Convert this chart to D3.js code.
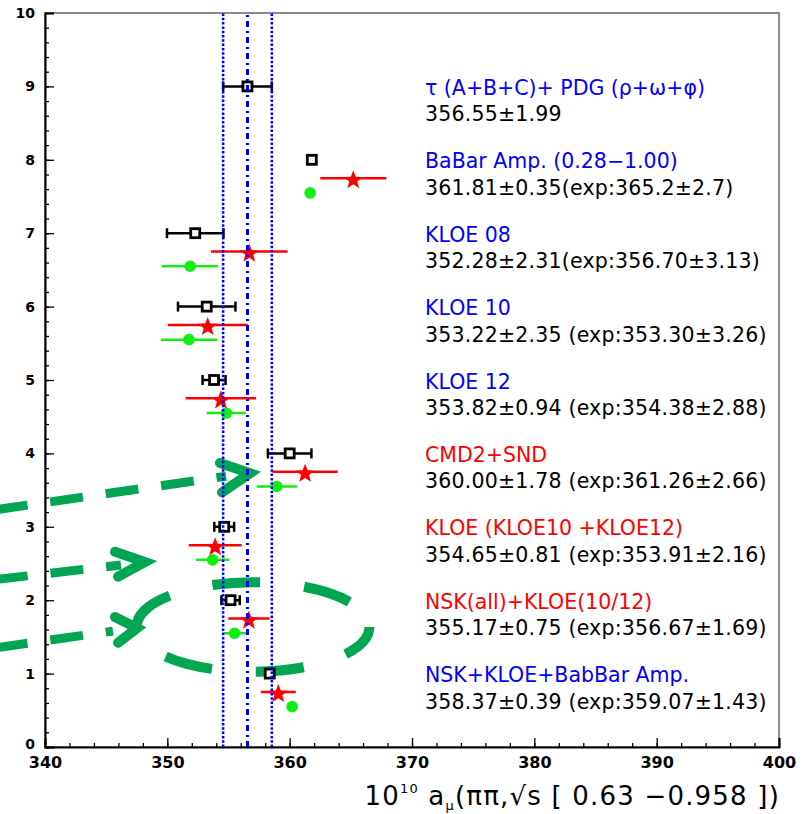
<!DOCTYPE html>
<html>
<head>
<meta charset="utf-8">
<script src="https://cdn.jsdelivr.net/npm/d3@7"></script>
<style>
  body { margin: 0; background: #fff; }
  svg { display: block; }
</style>
</head>
<body>
<svg id="chart"></svg>
<script>
// rows from top to bottom
const rows = [9, 8, 7, 6, 5, 4, 3, 2, 1];
const labels = ["τ (A+B+C)+ PDG (ρ+ω+φ)", "BaBar Amp. (0.28−1.00)", "KLOE 08", "KLOE 10", "KLOE 12",
                "CMD2+SND", "KLOE (KLOE10 +KLOE12)", "NSK(all)+KLOE(10/12)", "NSK+KLOE+BabBar Amp."];
const labelKind = ["b", "b", "b", "b", "b", "r", "r", "r", "b"];
const valueTexts = ["356.55±1.99", "361.81±0.35(exp:365.2±2.7)", "352.28±2.31(exp:356.70±3.13)",
                    "353.22±2.35 (exp:353.30±3.26)", "353.82±0.94 (exp:354.38±2.88)",
                    "360.00±1.78 (exp:361.26±2.66)", "354.65±0.81 (exp:353.91±2.16)",
                    "355.17±0.75 (exp:356.67±1.69)", "358.37±0.39 (exp:359.07±1.43)"];
const fitVal = [356.55, 361.81, 352.28, 353.22, 353.82, 360.00, 354.65, 355.17, 358.37];
const fitErr = [1.99, 0.35, 2.31, 2.35, 0.94, 1.78, 0.81, 0.75, 0.39];
const expVal = [null, 365.2, 356.70, 353.30, 354.38, 361.26, 353.91, 356.67, 359.07];
const expErr = [null, 2.7, 3.13, 3.26, 2.88, 2.66, 2.16, 1.69, 1.43];
const altVal = [null, 361.67, 351.86, 351.77, 354.82, 358.95, 353.70, 355.50, 360.20];
const altErr = [null, 0.30, 2.30, 2.30, 1.60, 1.64, 1.35, 0.95, 0.30];
const band = [356.55, 1.99];
const xTicks = [340, 350, 360, 370, 380, 390, 400];
const yTicks = [0, 1, 2, 3, 4, 5, 6, 7, 8, 9, 10];

// hand-drawn green marks (data units)
const arrows = [
  {from: [335.9, 3.23], tip: [356.76, 3.73], arm1: [354.3, 3.87], arm2: [354.47, 3.47]},
  {from: [335.9, 2.28], tip: [348.17, 2.52], arm1: [345.72, 2.66], arm2: [345.97, 2.32]},
  {from: [335.9, 1.35], tip: [347.52, 1.62], arm1: [345.72, 1.77], arm2: [345.97, 1.42]}
];
const ring = {cx: 357.0, cy: 1.635, rx: 9.52, ry: 0.61};

const width = 803, height = 814;
const svg = d3.select("#chart").attr("width", width).attr("height", height);

const x = d3.scaleLinear().domain([340, 400]).range([45, 779]);
const y = d3.scaleLinear().domain([0, 10]).range([747, 13]);

const blue = "#0000ff", red = "#ff0000", green = "#11ee11", dark = "#00a651";

// frame
svg.append("rect")
  .attr("x", x(340)).attr("y", y(10))
  .attr("width", x(400) - x(340)).attr("height", y(0) - y(10))
  .attr("fill", "none").attr("stroke", "#666").attr("stroke-width", 1.5);

// annotations
const ann = svg.append("g").attr("stroke", dark).attr("fill", "none");
arrows.forEach(a => {
  ann.append("line")
    .attr("x1", x(a.from[0])).attr("y1", y(a.from[1]))
    .attr("x2", x(a.tip[0]) - 24).attr("y2", y(a.tip[1]) + 3)
    .attr("stroke-width", 9).attr("stroke-dasharray", "33,23");
  ann.append("path")
    .attr("d", d3.line()([[x(a.arm1[0]), y(a.arm1[1])], [x(a.tip[0]), y(a.tip[1])], [x(a.arm2[0]), y(a.arm2[1])]]))
    .attr("stroke-width", 10).attr("stroke-linecap", "round").attr("stroke-linejoin", "miter");
});
ann.append("ellipse")
  .attr("cx", x(ring.cx)).attr("cy", y(ring.cy))
  .attr("rx", x(ring.cx + ring.rx) - x(ring.cx)).attr("ry", y(ring.cy - ring.ry) - y(ring.cy))
  .attr("stroke-width", 10).attr("stroke-dasharray", "48,44").attr("stroke-dashoffset", 10);

// axes
const xMinor = d3.range(340, 401, 2);
svg.append("g").attr("transform", `translate(0,${y(0)})`)
  .call(d3.axisBottom(x).tickValues(xMinor).tickSize(-4).tickFormat(""))
  .call(g => g.select(".domain").remove());
const xAxis = svg.append("g").attr("transform", `translate(0,${y(0)})`)
  .call(d3.axisBottom(x).tickValues(xTicks).tickSize(-9).tickPadding(10).tickFormat(d3.format("d")));
xAxis.selectAll("text").attr("font-size", 16).attr("font-weight", "bold")
  .attr("font-family", "DejaVu Sans").attr("fill", "#000");

const yMinor = d3.range(0, 10.01, 0.2);
svg.append("g").attr("transform", `translate(${x(340)},0)`)
  .call(d3.axisLeft(y).tickValues(yMinor).tickSize(-4).tickFormat(""))
  .call(g => g.select(".domain").remove());
const yAxis = svg.append("g").attr("transform", `translate(${x(340)},0)`)
  .call(d3.axisLeft(y).tickValues(yTicks).tickSize(-9).tickPadding(10).tickFormat(d3.format("d")));
yAxis.selectAll("text").attr("font-size", 14).attr("font-weight", "bold")
  .attr("font-family", "DejaVu Sans").attr("fill", "#000");
yAxis.selectAll("text").filter(d => d === 0).attr("dy", "0.1em");
svg.selectAll(".tick line").attr("stroke", "#000").attr("stroke-width", 1.3);
svg.selectAll(".domain").attr("stroke", "#000").attr("stroke-width", 2);

// points
const idx = d3.range(rows.length);
const starPath = (R) => {
  const pts = [];
  for (let i = 0; i < 10; i++) {
    const r = i % 2 ? R * 0.42 : R;
    const a = -Math.PI / 2 + i * Math.PI / 5;
    pts.push([r * Math.cos(a), r * Math.sin(a)]);
  }
  return d3.line()(pts) + "Z";
};

// green (lowest)
const alt = idx.filter(i => altVal[i] !== null);
svg.append("g").selectAll("line").data(alt).join("line")
  .attr("x1", i => x(altVal[i] - altErr[i])).attr("x2", i => x(altVal[i] + altErr[i]))
  .attr("y1", i => y(rows[i] - 0.45)).attr("y2", i => y(rows[i] - 0.45))
  .attr("stroke", green).attr("stroke-width", 2.5);
svg.append("g").selectAll("circle").data(alt).join("circle")
  .attr("cx", i => x(altVal[i])).attr("cy", i => y(rows[i] - 0.45))
  .attr("r", 5.8).attr("fill", green);

// red
const ex = idx.filter(i => expVal[i] !== null);
svg.append("g").selectAll("line").data(ex).join("line")
  .attr("x1", i => x(expVal[i] - expErr[i])).attr("x2", i => x(expVal[i] + expErr[i]))
  .attr("y1", i => y(rows[i] - 0.25)).attr("y2", i => y(rows[i] - 0.25))
  .attr("stroke", red).attr("stroke-width", 2.5);
svg.append("g").selectAll("path").data(ex).join("path")
  .attr("d", starPath(10))
  .attr("transform", i => `translate(${x(expVal[i])},${y(rows[i] - 0.25) + 2})`)
  .attr("fill", red);

// black
const fit = svg.append("g").attr("stroke", "#000").attr("stroke-width", 2.5);
fit.selectAll("line.bar").data(idx).join("line").attr("class", "bar")
  .attr("x1", i => x(fitVal[i] - fitErr[i])).attr("x2", i => x(fitVal[i] + fitErr[i]))
  .attr("y1", i => y(rows[i])).attr("y2", i => y(rows[i]));
[-1, 1].forEach(s => {
  fit.selectAll(null).data(idx.filter(i => fitErr[i] > 0.5)).join("line")
    .attr("x1", i => x(fitVal[i] + s * fitErr[i])).attr("x2", i => x(fitVal[i] + s * fitErr[i]))
    .attr("y1", i => y(rows[i]) - 5).attr("y2", i => y(rows[i]) + 5);
});
fit.selectAll("rect").data(idx).join("rect")
  .attr("x", i => x(fitVal[i]) - 4.5).attr("y", i => y(rows[i]) - 4.5)
  .attr("width", 9).attr("height", 9).attr("fill", "#fff").attr("stroke-width", 2.8);

// vertical band lines
const vl = svg.append("g").attr("stroke", blue);
[band[0] - band[1], band[0] + band[1]].forEach(v => {
  vl.append("line").attr("x1", x(v)).attr("x2", x(v)).attr("y1", y(0)).attr("y2", y(10))
    .attr("stroke-width", 2.5).attr("stroke-dasharray", "2.5,1.8");
});
vl.append("line").attr("x1", x(band[0])).attr("x2", x(band[0])).attr("y1", y(0)).attr("y2", y(10))
  .attr("stroke-width", 3).attr("stroke-dasharray", "6,4,2,4");

// labels
const txt = svg.append("g").attr("font-family", "DejaVu Sans").attr("font-size", 20.5);
txt.selectAll("text.lab").data(idx).join("text").attr("class", "lab")
  .attr("x", 425).attr("y", i => y(rows[i]) + 8.5)
  .attr("fill", i => labelKind[i] === "r" ? red : blue)
  .text(i => labels[i]);
txt.selectAll("text.val").data(idx).join("text").attr("class", "val")
  .attr("x", 425).attr("y", i => y(rows[i]) + 35)
  .attr("fill", "#000").attr("letter-spacing", 0.2)
  .text(i => valueTexts[i]);

// x title
const title = svg.append("text").attr("x", 780).attr("y", 805).attr("text-anchor", "end")
  .attr("font-family", "DejaVu Sans").attr("font-size", 26).attr("letter-spacing", 1.2).attr("fill", "#000");
title.append("tspan").text("10");
title.append("tspan").attr("font-size", 13).attr("dy", -12).text("10");
title.append("tspan").attr("dy", 12).text(" a");
title.append("tspan").attr("font-size", 13).attr("dy", 5).text("μ");
title.append("tspan").attr("dy", -5).text("(ππ,√s [ 0.63 −0.958 ])");
</script>
</body>
</html>
